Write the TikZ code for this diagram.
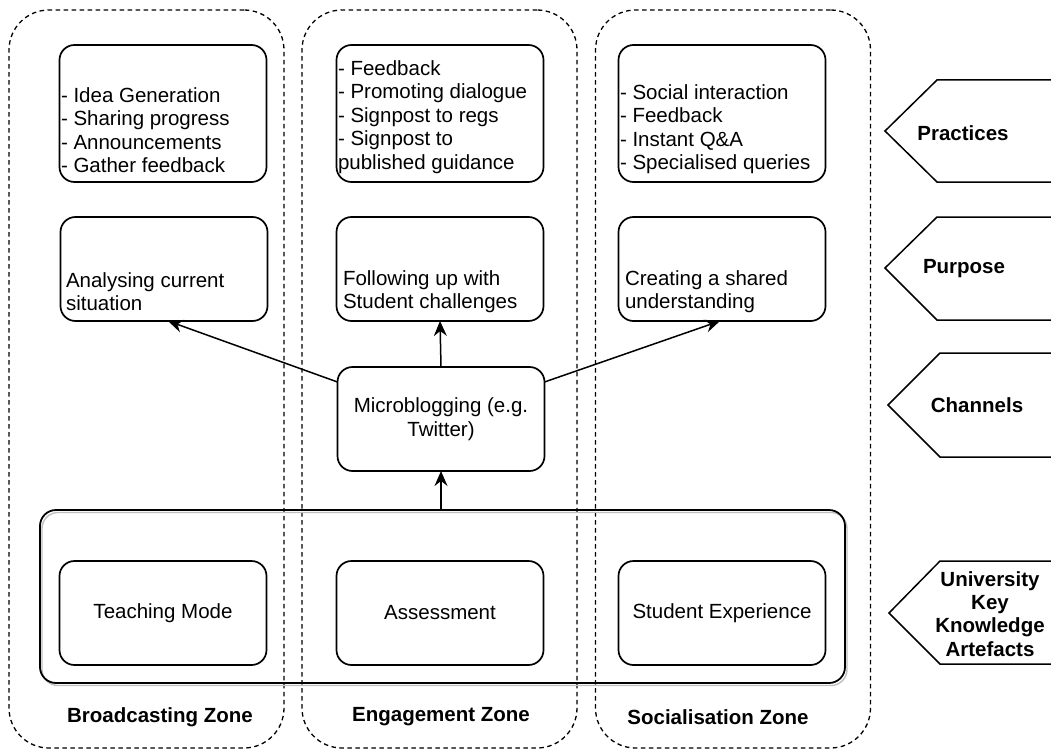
\documentclass[tikz,border=0pt]{standalone}
\usepackage{fontspec}
\setmainfont{Liberation Sans}
\usetikzlibrary{arrows.meta}
\begin{document}
\begin{tikzpicture}[x=1pt,y=-1pt,
  every node/.style={font=\fontsize{20.5}{23.5}\selectfont, inner sep=0pt, outer sep=0pt},
  zone/.style={draw, dash pattern=on 4.5pt off 3.5pt, line width=1.3pt, rounded corners=40pt, minimum width=275pt, minimum height=738pt},
  box/.style={draw, line width=1.7pt, rounded corners=15pt, minimum width=207pt},
  txt/.style={align=left, anchor=west},
  zlabel/.style={font=\fontsize{20.5}{23.5}\selectfont\bfseries},
  rlabel/.style={font=\fontsize{20.5}{23.3}\selectfont\bfseries, align=center},
  tag/.style={line width=1.5pt},
  arr/.style={line width=1.5pt, -{Stealth[length=15pt,width=13pt,inset=5pt]}},
  wavy/.style={draw, line width=1.8pt, rounded corners=16pt, minimum width=805pt, minimum height=173pt},
  wavyshadow/.style={draw=black!25, line width=1.4pt, rounded corners=16pt, minimum width=805pt, minimum height=173pt}
]
\useasboundingbox (0,0) rectangle (1051,749);

% zones
\node[zone] (zb) at (146.5,379) {};
\node[zone] (ze) at (439.5,379) {};
\node[zone] (zs) at (733,379) {};
\node[zlabel] (lb) at (160,717) {Broadcasting Zone};
\node[zlabel] (le) at (441,717) {Engagement Zone};
\node[zlabel] (ls) at (718,717) {Socialisation Zone};

% knowledge artefacts outline
\node[wavyshadow] (kbs) at (444.5,599) {};
\node[wavy] (kb) at (442.5,596.5) {};

% practices
\node[box, minimum height=137pt] (pb1) at (163,113.5) {};
\node[box, minimum height=137pt] (pe1) at (440,113.5) {};
\node[box, minimum height=137pt] (ps1) at (722,113.5) {};
\node[txt] (tb1) at (61,130) {- Idea Generation\\- Sharing progress\\- Announcements\\- Gather feedback};
\node[txt] (te1) at (338,117) {- Feedback\\- Promoting dialogue\\- Signpost to regs\\- Signpost to\\published guidance};
\node[txt] (ts1) at (620,129) {- Social interaction\\- Feedback\\- Instant Q\&A\\- Specialised queries};

% purpose
\node[box, minimum height=104pt] (pb) at (164,269) {};
\node[box, minimum height=104pt] (pe) at (440,269) {};
\node[box, minimum height=104pt] (ps) at (722,269) {};
\node[txt] (tb2) at (66,291.5) {Analysing current\\situation};
\node[txt] (te2) at (343,291.5) {Following up with\\Student challenges};
\node[txt] (ts2) at (625,291.5) {Creating a shared\\understanding};

% channel
\node[box, minimum height=104pt, align=center] (mb) at (441,419) {Microblogging (e.g.\\Twitter)};

% artefacts
\node[box, minimum height=104pt] (ab) at (163,613) {Teaching Mode};
\node[box, minimum height=104pt] (ae) at (440,613) {Assessment};
\node[box, minimum height=104pt] (as) at (722,613) {Student Experience};

% arrows
\draw[arr] (mb.north) -- (pe.south);
\draw[arr] ([yshift=37pt]mb.west) -- ([xshift=4pt]pb.south);
\draw[arr] ([yshift=37pt]mb.east) -- ([xshift=-2pt]ps.south);
\draw[arr] (kb.north -| mb.south) -- (mb.south);

% right tags
\draw[tag] (1060,80) -- (937,80) -- (885,131) -- (937,182) -- (1060,182);
\node[rlabel] (rp) at (963,133) {Practices};
\draw[tag] (1060,217) -- (937,217) -- (885,268) -- (937,320) -- (1060,320);
\node[rlabel] (ru) at (964,269) {Purpose};
\draw[tag] (1060,353) -- (940,353) -- (888,405) -- (940,457) -- (1060,457);
\node[rlabel] (rc) at (977,405) {Channels};
\draw[tag] (1060,561) -- (940,561) -- (889,613) -- (940,664) -- (1060,664);
\node[rlabel] (rk) at (990,614) {University\\Key\\Knowledge\\Artefacts};
\end{tikzpicture}
\end{document}
